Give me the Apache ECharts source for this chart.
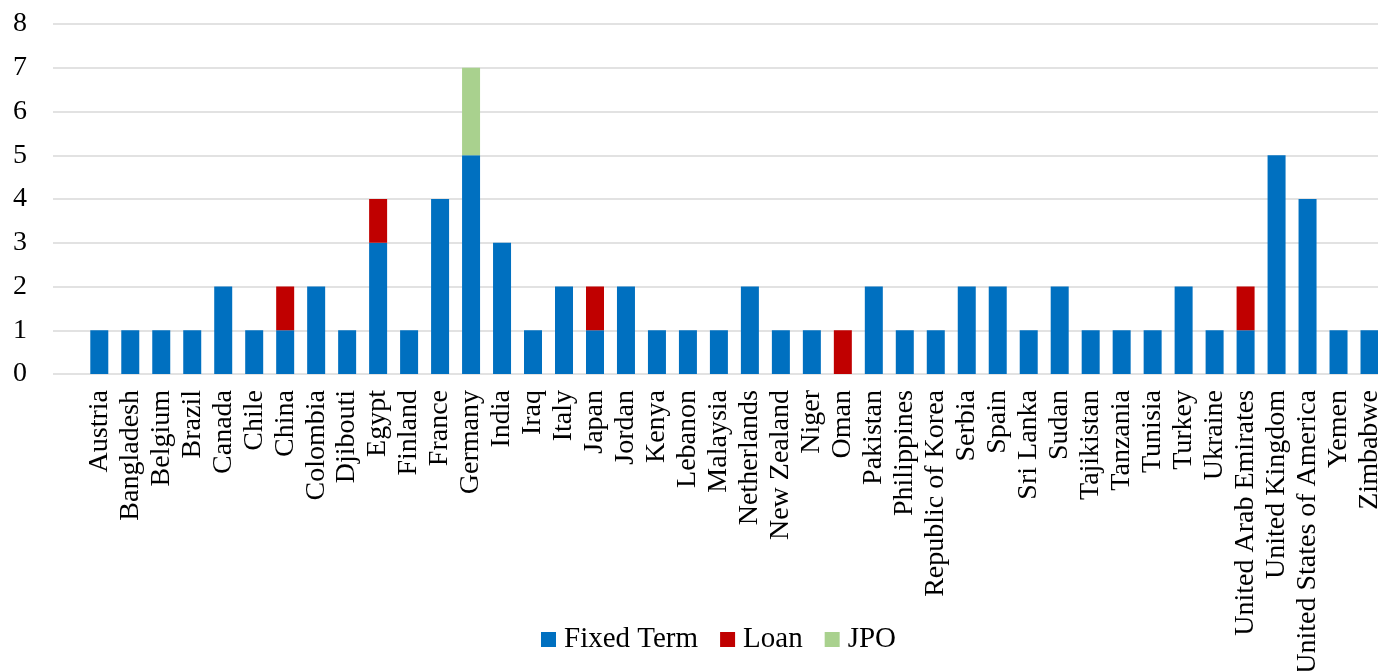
<!DOCTYPE html>
<html>
<head>
<meta charset="utf-8">
<script src="https://cdn.jsdelivr.net/npm/echarts@6/dist/echarts.min.js"></script>
<style>
html,body{margin:0;padding:0;background:#fff;}
#chart{width:1378px;height:671px;}
</style>
</head>
<body>
<div id="chart"></div>
<script>
const categories = ["Austria","Bangladesh","Belgium","Brazil","Canada","Chile","China","Colombia","Djibouti","Egypt","Finland","France","Germany","India","Iraq","Italy","Japan","Jordan","Kenya","Lebanon","Malaysia","Netherlands","New Zealand","Niger","Oman","Pakistan","Philippines","Republic of Korea","Serbia","Spain","Sri Lanka","Sudan","Tajikistan","Tanzania","Tunisia","Turkey","Ukraine","United Arab Emirates","United Kingdom","United States of America","Yemen","Zimbabwe"];
const fixedTerm = [1,1,1,1,2,1,1,2,1,3,1,4,5,3,1,2,1,2,1,1,1,2,1,1,0,2,1,1,2,2,1,2,1,1,1,2,1,1,5,4,1,1];
const loan      = [0,0,0,0,0,0,1,0,0,1,0,0,0,0,0,0,1,0,0,0,0,0,0,0,1,0,0,0,0,0,0,0,0,0,0,0,0,1,0,0,0,0];
const jpo       = [0,0,0,0,0,0,0,0,0,0,0,0,2,0,0,0,0,0,0,0,0,0,0,0,0,0,0,0,0,0,0,0,0,0,0,0,0,0,0,0,0,0];
const seriesNames = ["Fixed Term","Loan","JPO"];
const yTicks = [0,1,2,3,4,5,6,7,8];

const font = "'Liberation Serif','Times New Roman',serif";
const chart = echarts.init(document.getElementById('chart'), null, {renderer:'canvas'});
const toData = arr => arr.map(v => v === 0 ? null : v);
chart.setOption({
  animation:false,
  textStyle:{fontFamily:font},
  legend:{
    data:seriesNames,
    top:625,
    left:541,
    padding:0,
    itemWidth:15,
    itemHeight:15,
    itemGap:22,
    icon:'rect',
    textStyle:{fontFamily:font,fontSize:29,color:'#000',padding:[0,0,0,3]}
  },
  grid:[
    {left:83.8,right:-7,top:24,bottom:297,containLabel:false,outerBoundsMode:'none'},
    {left:53,right:0,top:24,bottom:297,containLabel:false,outerBoundsMode:'none'}
  ],
  xAxis:[
    {type:'category',gridIndex:0,data:categories,
     axisLine:{show:false},axisTick:{show:false},
     axisLabel:{rotate:90,interval:0,margin:16,fontFamily:font,fontSize:28,color:'#000'}},
    {type:'value',gridIndex:1,show:false,min:0,max:1}
  ],
  yAxis:[
    {type:'value',gridIndex:0,min:yTicks[0],max:yTicks[yTicks.length-1],interval:1,
     axisLabel:{show:false},splitLine:{show:false},axisLine:{show:false},axisTick:{show:false}},
    {type:'value',gridIndex:1,min:yTicks[0],max:yTicks[yTicks.length-1],interval:1,
     axisLine:{show:false},axisTick:{show:false},
     axisLabel:{margin:26,fontFamily:font,fontSize:28,color:'#000'},
     splitLine:{show:true,lineStyle:{color:'#d9d9d9',width:1.5}}}
  ],
  series:[
    {name:seriesNames[0],type:'bar',stack:'s',xAxisIndex:0,yAxisIndex:0,barWidth:18,data:toData(fixedTerm),itemStyle:{color:'#0070C0'}},
    {name:seriesNames[1],type:'bar',stack:'s',xAxisIndex:0,yAxisIndex:0,barWidth:18,data:toData(loan),itemStyle:{color:'#C00000'}},
    {name:seriesNames[2],type:'bar',stack:'s',xAxisIndex:0,yAxisIndex:0,barWidth:18,data:toData(jpo),itemStyle:{color:'#A9D18E'}}
  ]
});
</script>
</body>
</html>
